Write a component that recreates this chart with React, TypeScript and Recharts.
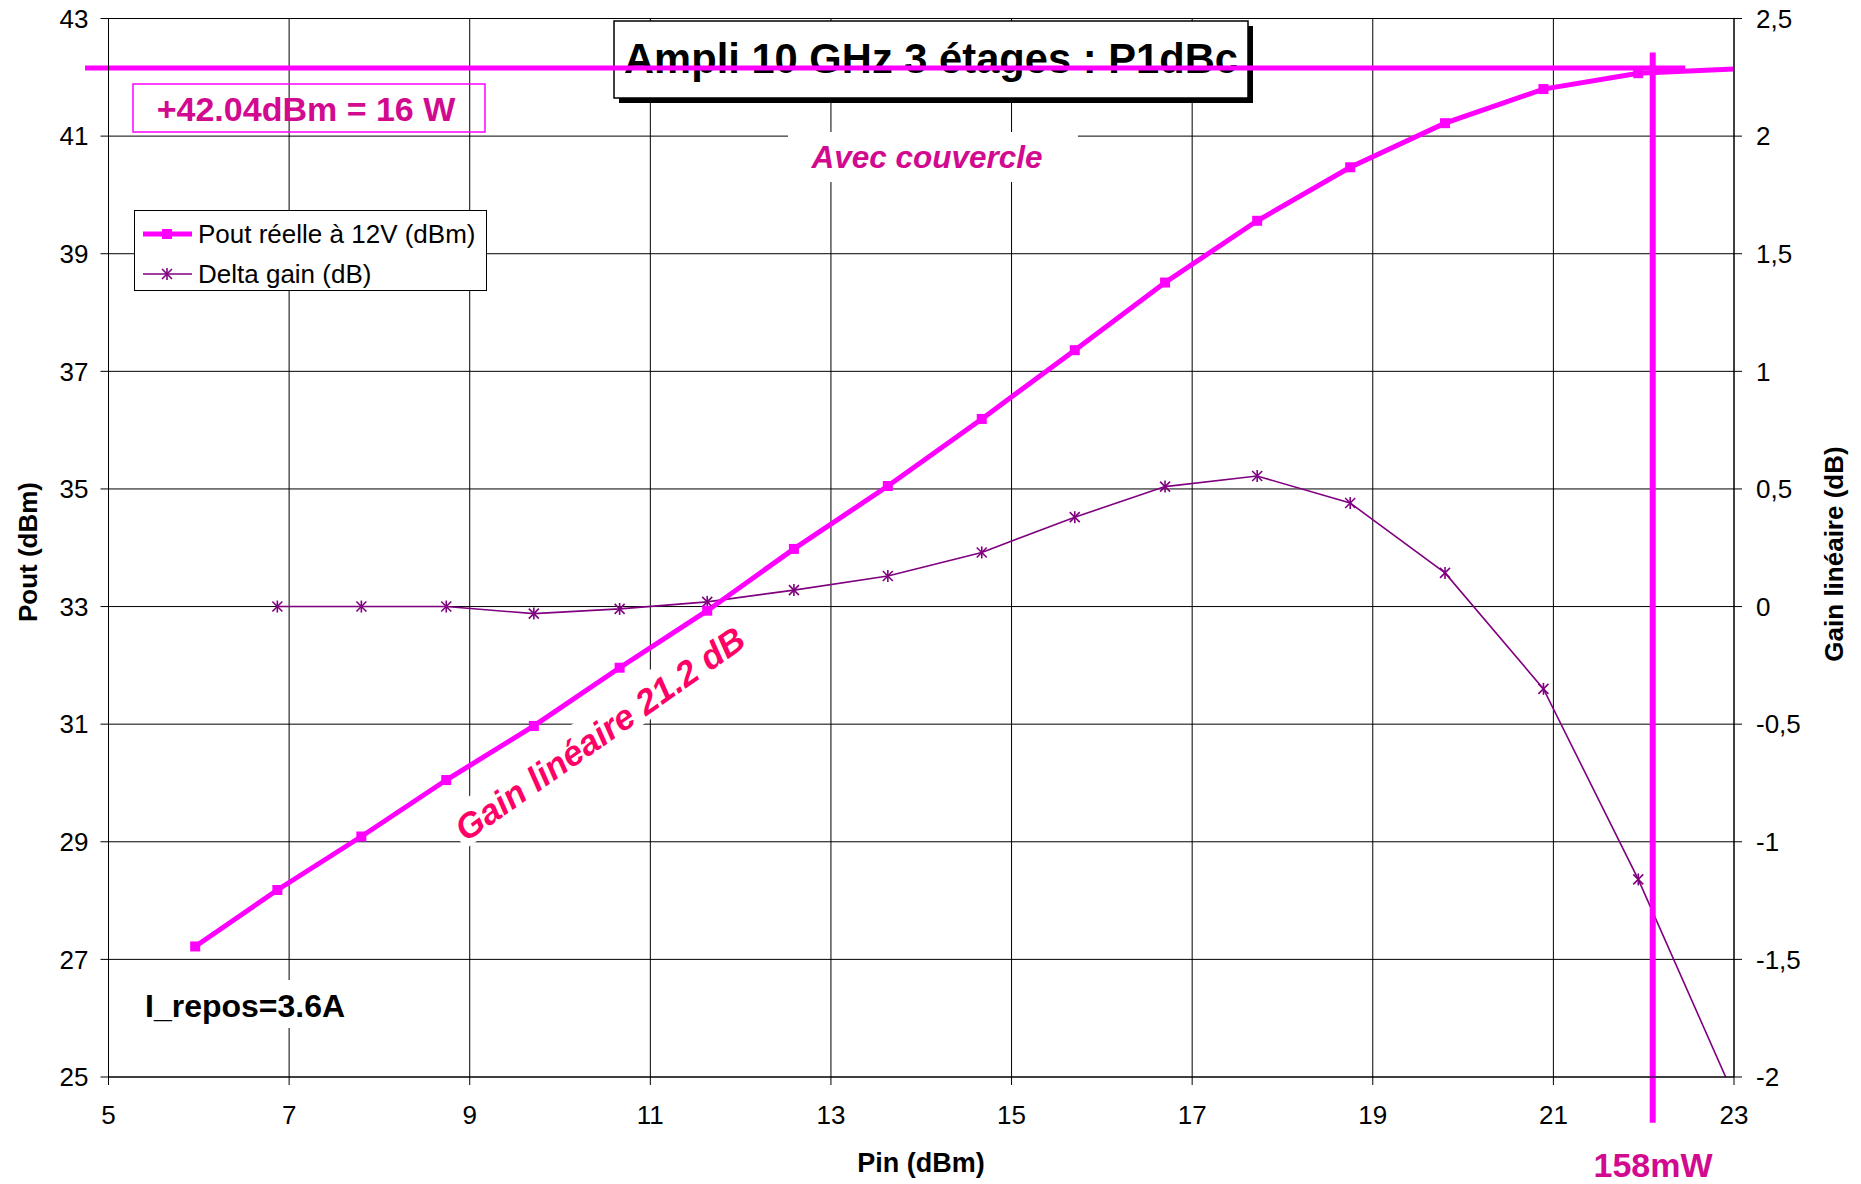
import React from "react";
import {
  LineChart,
  Line,
  XAxis,
  YAxis,
  CartesianGrid,
  ReferenceLine,
  Customized,
} from "recharts";

// Pin (dBm) measured points
const pin = [5.96, 6.87, 7.8, 8.74, 9.71, 10.66, 11.63, 12.59, 13.63, 14.67, 15.7, 16.7, 17.72, 18.75, 19.8, 20.89, 21.94, 23.0];
// Pout réelle à 12V (dBm)
const pout = [27.22, 28.18, 29.09, 30.05, 30.97, 31.96, 32.93, 33.98, 35.05, 36.19, 37.36, 38.51, 39.56, 40.47, 41.22, 41.8, 42.07, 42.14];
// Delta gain (dB)
const deltaGain = [null, 0, 0, 0, -0.03, -0.01, 0.02, 0.07, 0.13, 0.23, 0.38, 0.51, 0.555, 0.44, 0.143, -0.35, -1.16, -2.08];

const xTicks = [5, 7, 9, 11, 13, 15, 17, 19, 21, 23];
const leftTicks = [25, 27, 29, 31, 33, 35, 37, 39, 41, 43];
const rightTicks = [-2, -1.5, -1, -0.5, 0, 0.5, 1, 1.5, 2, 2.5];

// P1dB markers drawn on the chart
const p1dbLevel = 42.16;
const p1dbPin = 22.1;

const data = pin.map((p, i) => ({ pin: p, pout: pout[i], delta: deltaGain[i] }));

const FONT = "'Liberation Sans', Arial, sans-serif";
const MAGENTA = "#ff00ff";
const PURPLE = "#800080";
const TEXT_MAG = "#d10a8f";

const tickStyle = { fontSize: 26, fill: "#000", fontFamily: FONT };

const squareDot = (props: any) => {
  const { cx, cy, index } = props;
  if (index === pin.length - 1 || cx == null || cy == null) return <g key={`sq-${index}`} />;
  return <rect key={`sq-${index}`} x={cx - 5} y={cy - 5} width={10} height={10} fill={MAGENTA} />;
};

const Star = ({ cx, cy }: { cx: number; cy: number }) => (
  <g stroke={PURPLE} strokeWidth={1.6}>
    <line x1={cx - 5} y1={cy - 5} x2={cx + 5} y2={cy + 5} />
    <line x1={cx - 5} y1={cy + 5} x2={cx + 5} y2={cy - 5} />
    <line x1={cx} y1={cy - 6} x2={cx} y2={cy + 6} />
  </g>
);

const starDot = (props: any) => {
  const { cx, cy, index, value } = props;
  if (value == null || cx == null || cy == null || isNaN(cy)) return <g key={`st-${index}`} />;
  return (
    <g key={`st-${index}`}>
      <Star cx={cx} cy={cy} />
    </g>
  );
};

const Annotations = () => (
  <g fontFamily={FONT}>
    {/* title box */}
    <rect x={619} y={26} width={634} height={77} fill="#000" />
    <rect x={614} y={21} width={634} height={77} fill="#fff" stroke="#000" strokeWidth={1.5} />
    <text x={931} y={73} textAnchor="middle" fontSize={42} fontWeight="bold" textLength={614} lengthAdjust="spacingAndGlyphs">
      Ampli 10 GHz 3 étages : P1dBc
    </text>

    <rect x={133} y={84} width={352} height={48} fill="none" stroke={MAGENTA} strokeWidth={1.5} />
    <text x={306} y={121} textAnchor="middle" fontSize={34} fontWeight="bold" fill={TEXT_MAG}>
      +42.04dBm = 16 W
    </text>

    <rect x={788} y={132} width={290} height={50} fill="#fff" />
    <text x={927} y={168} textAnchor="middle" fontSize={31.5} fontWeight="bold" fontStyle="italic" fill={TEXT_MAG}>
      Avec couvercle
    </text>

    <rect x={135} y={980} width={230} height={48} fill="#fff" />
    <text x={145} y={1017} fontSize={32} fontWeight="bold" fill="#000">
      I_repos=3.6A
    </text>

    <g transform="translate(600,734) rotate(-35)">
      <rect x={-176} y={-24} width={352} height={41} fill="#fff" />
      <text x={0} y={12} textAnchor="middle" fontSize={35} fontWeight="bold" fontStyle="italic" fill="#ff0066">
        Gain linéaire 21.2 dB
      </text>
    </g>

    <text transform="translate(37,552) rotate(-90)" textAnchor="middle" fontSize={26} fontWeight="bold">
      Pout (dBm)
    </text>
    <text transform="translate(1843,554) rotate(-90)" textAnchor="middle" fontSize={26} fontWeight="bold">
      Gain linéaire (dB)
    </text>
    <text x={921} y={1172} textAnchor="middle" fontSize={27} fontWeight="bold">
      Pin (dBm)
    </text>
    <text x={1653} y={1177} textAnchor="middle" fontSize={34} fontWeight="bold" fill={TEXT_MAG}>
      158mW
    </text>
  </g>
);

const ChartLegend = () => (
  <div
    style={{
      position: "absolute",
      left: 134,
      top: 210,
      width: 353,
      height: 81,
      border: "1px solid #000",
      background: "#fff",
      boxSizing: "border-box",
    }}
  >
    <svg width={352} height={80} style={{ display: "block" }} fontFamily={FONT}>
      <line x1={8} y1={23} x2={57} y2={23} stroke={MAGENTA} strokeWidth={5} />
      <rect x={27} y={18} width={10} height={10} fill={MAGENTA} />
      <text x={63} y={32} fontSize={26}>Pout réelle à 12V (dBm)</text>
      <line x1={8} y1={63} x2={57} y2={63} stroke={PURPLE} strokeWidth={1.6} />
      <Star cx={32} cy={63} />
      <text x={63} y={72} fontSize={26}>Delta gain (dB)</text>
    </svg>
  </div>
);

export default function App() {
  return (
    <div style={{ position: "absolute", left: 0, top: 0, width: 1861, height: 1184, background: "#fff" }}>
      <LineChart width={1861} height={1184} data={data} margin={{ top: 18.5, right: 47, bottom: 47, left: 28.5 }}>
        <CartesianGrid yAxisId="left" stroke="#000" strokeWidth={1} />
        <XAxis
          dataKey="pin"
          type="number"
          domain={[5, 23]}
          ticks={xTicks}
          allowDataOverflow
          height={60}
          tick={tickStyle}
          tickSize={8}
          tickMargin={21}
          stroke="#000"
        />
        <YAxis
          yAxisId="left"
          domain={[25, 43]}
          ticks={leftTicks}
          allowDataOverflow
          width={80}
          tick={tickStyle}
          tickSize={8}
          tickMargin={12}
          stroke="#000"
        />
        <YAxis
          yAxisId="right"
          orientation="right"
          domain={[-2, 2.5]}
          ticks={rightTicks}
          allowDataOverflow
          width={80}
          tick={tickStyle}
          tickSize={8}
          tickMargin={14}
          stroke="#000"
          tickFormatter={(v: number) => String(v).replace(".", ",")}
        />
        <Customized component={Annotations} />
        <Line
          yAxisId="right"
          dataKey="delta"
          stroke={PURPLE}
          strokeWidth={1.6}
          dot={starDot}
          isAnimationActive={false}
        />
        <Line
          yAxisId="left"
          dataKey="pout"
          stroke={MAGENTA}
          strokeWidth={5}
          dot={squareDot}
          isAnimationActive={false}
        />
        <ReferenceLine
          yAxisId="left"
          segment={[{ x: 4.74, y: p1dbLevel }, { x: 22.46, y: p1dbLevel }]}
          stroke={MAGENTA}
          strokeWidth={5}
          ifOverflow="visible"
        />
        <ReferenceLine
          yAxisId="left"
          segment={[{ x: p1dbPin, y: 42.42 }, { x: p1dbPin, y: 24.22 }]}
          stroke={MAGENTA}
          strokeWidth={6}
          ifOverflow="visible"
        />
      </LineChart>
      <ChartLegend />
    </div>
  );
}
